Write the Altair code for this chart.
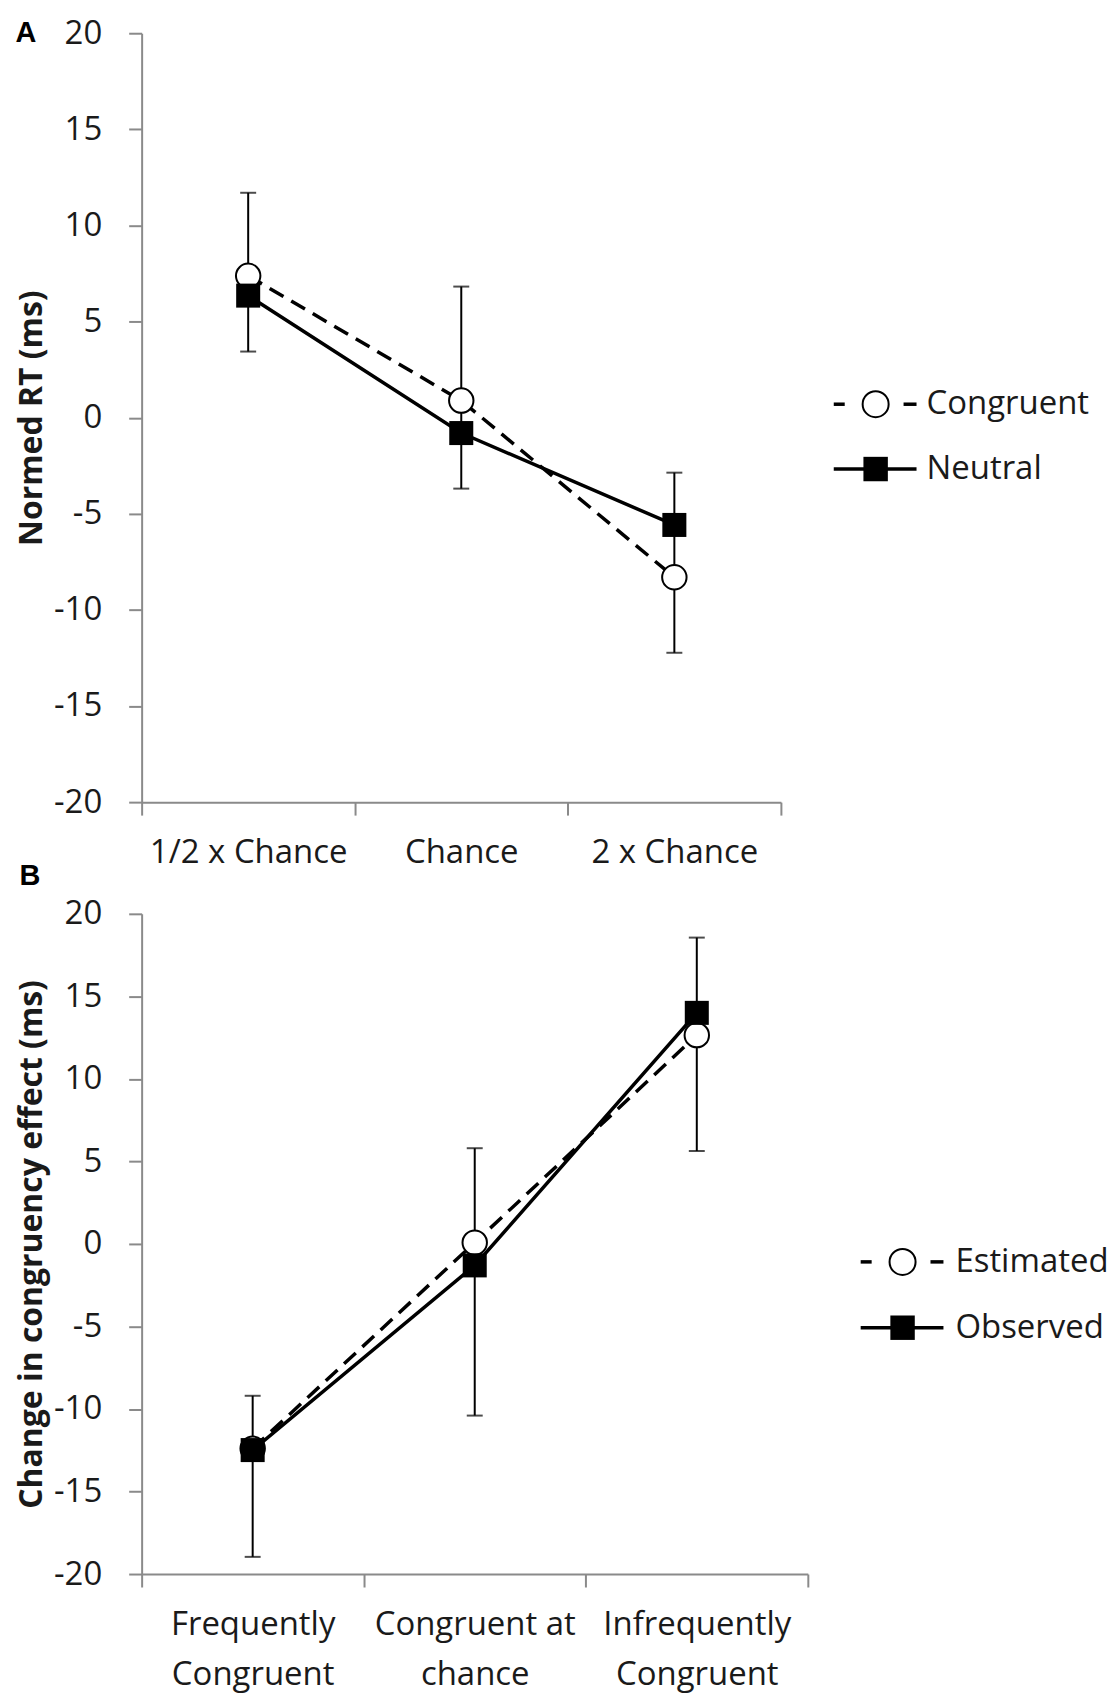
import altair as alt
import pandas as pd

# ---------------- Panel A data ----------------
cats_a = ["1/2 x Chance", "Chance", "2 x Chance"]
congruent = [7.38, 0.89, -8.3]
neutral = [6.35, -0.8, -5.58]
err_lo_a = [3.44, -3.69, -12.23]
err_hi_a = [11.7, 6.82, -2.86]

# ---------------- Panel B data ----------------
cats_b = ["Frequently|Congruent", "Congruent at|chance", "Infrequently|Congruent"]
estimated = [-12.4, 0.08, 12.65]
observed = [-12.49, -1.3, 14.0]
err_lo_b = [-18.96, -10.4, 5.63]
err_hi_b = [-9.2, 5.8, 18.56]

y_ticks = [-20, -15, -10, -5, 0, 5, 10, 15, 20]

TEXT = "#1a1a1a"
GREY = "#8a8a8a"
FONT = "Open Sans"


def panel(cats, name1, s1, name2, s2, lo, hi, width, height, ytitle,
          letter, letter_xy, legend_x, legend_rows, multiline):
    df1 = pd.DataFrame({"cat": cats, "value": s1})
    df2 = pd.DataFrame({"cat": cats, "value": s2})
    dferr = pd.DataFrame({"cat": cats, "lo": lo, "hi": hi})

    xaxis = alt.Axis(
        title=None, tickBand="extent", tickSize=13, labelPadding=22,
        labelAngle=0, labelLimit=0, domainColor=GREY, tickColor=GREY,
        domainWidth=2, tickWidth=2, labelFont=FONT, labelFontSize=33,
        labelColor=TEXT, labelLineHeight=50, grid=False,
        **({"labelExpr": "split(datum.label, '|')"} if multiline else {}),
    )
    x = alt.X("cat:N", sort=cats,
              scale=alt.Scale(type="band", paddingInner=0, paddingOuter=0),
              axis=xaxis)
    yscale = alt.Scale(domain=[-20, 20], nice=False, zero=False)
    yaxis = alt.Axis(
        values=y_ticks, tickSize=13, labelPadding=27, grid=False,
        labelExpr="datum.value < 0 ? '-' + abs(datum.value) : '' + datum.value",
        domainColor=GREY, tickColor=GREY, domainWidth=2, tickWidth=2,
        labelFont=FONT, labelFontSize=33, labelColor=TEXT,
        titleFont=FONT, titleFontSize=32, titleFontWeight="bold",
        titleColor=TEXT, titleX=-110, titleY=height / 2, titleAngle=270,
        titleAlign="center", titleBaseline="middle",
    )

    def Y(field):
        return alt.Y(field, scale=yscale, axis=yaxis, title=ytitle)

    base_err = alt.Chart(dferr)
    err_rule = base_err.mark_rule(color="black", strokeWidth=2).encode(
        x=x, y=Y("lo:Q"), y2="hi:Q")
    cap_lo = base_err.mark_tick(color="black", size=16, thickness=2).encode(
        x=x, y=Y("lo:Q"))
    cap_hi = base_err.mark_tick(color="black", size=16, thickness=2).encode(
        x=x, y=Y("hi:Q"))

    line1 = alt.Chart(df1).mark_line(color="black", strokeWidth=3.5,
                                     strokeDash=[16, 9]).encode(
        x=x, y=Y("value:Q"))
    line2 = alt.Chart(df2).mark_line(color="black", strokeWidth=3.5).encode(
        x=x, y=Y("value:Q"))
    pts1 = alt.Chart(df1).mark_point(shape="circle", filled=True,
                                     fill="white", stroke="black",
                                     strokeWidth=2, size=600,
                                     opacity=1).encode(x=x, y=Y("value:Q"))
    pts2 = alt.Chart(df2).mark_point(shape="square", filled=True,
                                     color="black", size=580,
                                     opacity=1).encode(x=x, y=Y("value:Q"))

    # legend (drawn manually)
    lx0, lcx, lx1, ltx = legend_x
    r1, r2 = legend_rows
    lg = []
    lg.append(alt.Chart().mark_rule(color="black", strokeWidth=3.5).encode(
        x=alt.value(lx0), x2=alt.value(lx0 + 11), y=alt.value(r1)))
    lg.append(alt.Chart().mark_rule(color="black", strokeWidth=3.5).encode(
        x=alt.value(lx1 - 13), x2=alt.value(lx1), y=alt.value(r1)))
    lg.append(alt.Chart().mark_point(shape="circle", filled=True,
                                     fill="white", stroke="black",
                                     strokeWidth=2, size=680,
                                     opacity=1).encode(
        x=alt.value(lcx), y=alt.value(r1)))
    lg.append(alt.Chart().mark_rule(color="black", strokeWidth=3.5).encode(
        x=alt.value(lx0), x2=alt.value(lx1), y=alt.value(r2)))
    lg.append(alt.Chart().mark_point(shape="square", filled=True,
                                     color="black", size=600,
                                     opacity=1).encode(
        x=alt.value(lcx), y=alt.value(r2)))
    lg.append(alt.Chart().mark_text(font=FONT, fontSize=33, align="left",
                                    baseline="middle", color=TEXT).encode(
        x=alt.value(ltx), y=alt.value(r1), text=alt.value(name1)))
    lg.append(alt.Chart().mark_text(font=FONT, fontSize=33, align="left",
                                    baseline="middle", color=TEXT).encode(
        x=alt.value(ltx), y=alt.value(r2), text=alt.value(name2)))

    letter_mark = alt.Chart().mark_text(
        font="Liberation Sans", fontSize=29, fontWeight="bold",
        align="center", baseline="middle", color="black").encode(
        x=alt.value(letter_xy[0]), y=alt.value(letter_xy[1]),
        text=alt.value(letter))

    return alt.layer(err_rule, cap_lo, cap_hi, line1, line2, pts1, pts2,
                     *lg, letter_mark).properties(width=width, height=height)


pa = panel(cats_a, "Congruent", congruent, "Neutral", neutral,
           err_lo_a, err_hi_a, 641, 771, "Normed RT (ms)",
           "A", (-116, 0), (694, 736, 777, 787), (372, 437), False)
pb = panel(cats_b, "Estimated", estimated, "Observed", observed,
           err_lo_b, err_hi_b, 668, 662, "Change in congruency effect (ms)",
           "B", (-112, -38), (721, 763, 804, 816), (349, 415), True)

chart = alt.vconcat(pa, pb, spacing=112, bounds="flush").properties(
    padding={"top": 7, "left": 7, "right": 2, "bottom": 2},
    background="white"
).configure_view(stroke=None)

chart.save("out.html", embed_options={"renderer": "svg", "actions": False})
